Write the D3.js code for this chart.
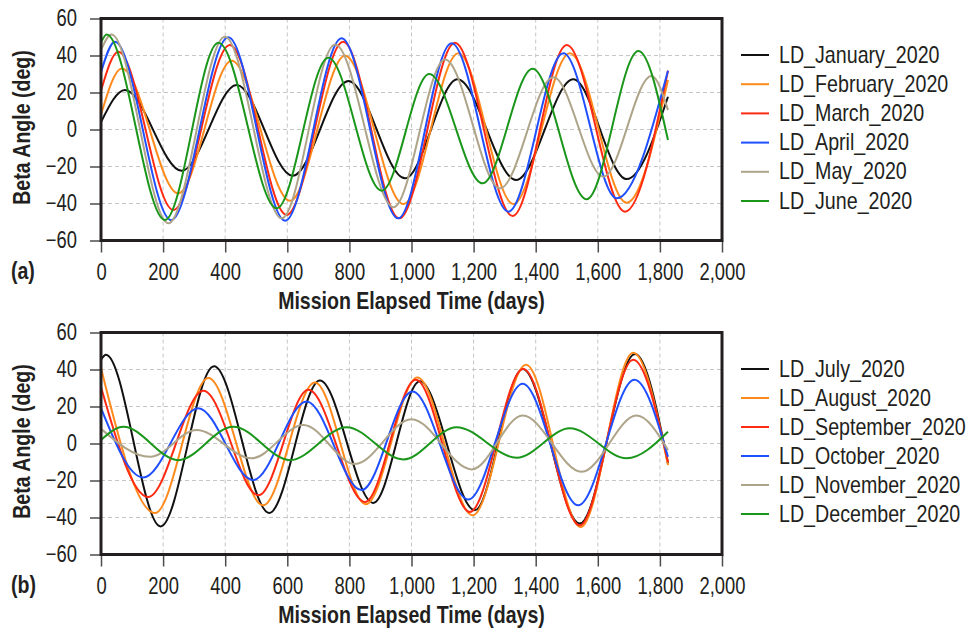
<!DOCTYPE html>
<html>
<head>
<meta charset="UTF-8">
<script src="https://cdn.jsdelivr.net/npm/d3@7"></script>
<style>
  body { margin: 0; background: #fff; }
  svg text { font-family: "Liberation Sans", Arial, sans-serif; fill: #231f20; }
  .grid line { stroke: #c6c6c6; stroke-width: 1; stroke-dasharray: 4,3; }
  .axis path { display: none; }
  .axis line { stroke: #4d4d4d; stroke-width: 1.5; }
  .axis text { font-size: 23px; }
  .frame { fill: none; stroke: #231f20; stroke-width: 3; }
  .series { fill: none; stroke-width: 2; }
  .title { font-size: 23px; font-weight: bold; }
  .legend text { font-size: 23px; }
</style>
</head>
<body>
<script>
var svgWidth = 968, svgHeight = 632;

// tick values shared by both panels
var xTicks = [0, 200, 400, 600, 800, 1000, 1200, 1400, 1600, 1800, 2000];
var yTicks = [-60, -40, -20, 0, 20, 40, 60];

// panel (a): [day, beta angle] (extrema + ends)
var namesA = ["LD_January_2020", "LD_February_2020", "LD_March_2020", "LD_April_2020", "LD_May_2020", "LD_June_2020"];
var january = [[0,4],[77,21.4],[260,-22.3],[437,24],[617,-25],[797,26.2],[979,-26.4],[1148,27.1],[1337,-27.3],[1521,27.1],[1693,-26.8],[1826,17.7]];
var february = [[0,8],[67,33],[249,-34.5],[421,37.2],[609,-38.5],[786,39.9],[974,-40.3],[1151,41.2],[1328,-40.3],[1510,41.2],[1693,-39.6],[1826,26.8]];
var march = [[0,21],[56,42],[233,-43.5],[415,45.7],[598,-46.2],[780,47.5],[961,-48],[1140,46.9],[1326,-46.8],[1500,45.7],[1688,-44.4],[1826,31.8]];
var april = [[0,31],[45,47.5],[226,-49],[410,49.8],[593,-49.3],[775,49.3],[957,-48],[1129,46.6],[1312,-44.4],[1489,41.2],[1661,-37.2],[1826,31.8]];
var may = [[0,43],[34,51.4],[217,-50.7],[399,50.2],[582,-48],[754,46],[942,-42],[1108,37.9],[1285,-31.8],[1457,28.2],[1618,-25.5],[1773,28.9],[1826,10.5]];
var june = [[0,47],[18,51.4],[206,-48.9],[378,46.9],[566,-42.6],[732,38.8],[904,-33.1],[1057,30],[1229,-29.1],[1390,32.9],[1564,-37.7],[1731,42.4],[1826,-5.7]];

// panel (b)
var namesB = ["LD_July_2020", "LD_August_2020", "LD_September_2020", "LD_October_2020", "LD_November_2020", "LD_December_2020"];
var july = [[0,45.3],[16,48],[192,-44.8],[364,41.7],[542,-37.5],[705,34.1],[877,-32.1],[1027,33.6],[1204,-36.1],[1358,40.3],[1542,-43.3],[1720,48.4],[1826,-10.8]];
var august = [[0,40.8],[174,-37.6],[346,35.4],[522,-33.4],[689,33],[853,-32.8],[1019,35.7],[1197,-38.8],[1369,42.6],[1545,-45.2],[1714,49],[1826,-11.7]];
var september = [[0,30.5],[152,-28.9],[330,28.5],[507,-28],[668,29],[850,-31.6],[1014,34.5],[1188,-37],[1360,40.3],[1542,-44.2],[1714,45.3],[1826,-10]];
var october = [[0,19.1],[136,-18.4],[313,19.1],[490,-19.8],[662,22.7],[839,-25.2],[1003,28.1],[1183,-30.3],[1358,32.3],[1537,-33.4],[1718,34.5],[1826,-7.2]];
var november = [[0,7.9],[158,-7.2],[308,7.3],[485,-8],[652,10],[818,-11.1],[1000,13.1],[1194,-14],[1358,15.1],[1548,-15.3],[1725,15.1],[1826,-3.5]];
var december = [[0,1.9],[72,9.1],[249,-9],[426,9.1],[609,-9],[791,8.8],[974,-8.6],[1145,8.8],[1339,-7.7],[1510,8.2],[1693,-8],[1826,6.4]];

var colors = ["#111111", "#ff8a1c", "#ff2a12", "#1f4fff", "#aea489", "#1a961a"];

var svg = d3.select("body").append("svg")
  .attr("width", svgWidth)
  .attr("height", svgHeight);

// no narrow font installed, so squeeze the glyphs horizontally
function narrow(sel, k) {
  sel.each(function() {
    var t = d3.select(this);
    var x0 = +t.attr("x") || 0;
    t.attr("x", x0 / k)
     .attr("transform", (t.attr("transform") || "") + " scale(" + k + ",1)");
  });
}

function drawPanel(top, bottom, series, names, tag, legendTop, legendStep) {
  var x = d3.scaleLinear().domain([0, 2000]).range([101, 722]);
  var y = d3.scaleLinear().domain([-60, 60]).range([bottom, top]);

  var g = svg.append("g");

  // dashed grid
  var grid = g.append("g").attr("class", "grid");
  grid.selectAll(".gx").data(xTicks.slice(1, -1)).enter().append("line")
    .attr("x1", function(d) { return x(d); }).attr("x2", function(d) { return x(d); })
    .attr("y1", top).attr("y2", bottom);
  grid.selectAll(".gy").data(yTicks.slice(1, -1)).enter().append("line")
    .attr("x1", x(0)).attr("x2", x(2000))
    .attr("y1", function(d) { return y(d); }).attr("y2", function(d) { return y(d); });

  var line = d3.line()
    .x(function(d) { return x(d[0]); })
    .y(function(d) { return y(d[1]); })
    .curve(d3.curveMonotoneX);

  g.selectAll(".series").data(series).enter().append("path")
    .attr("class", "series")
    .attr("d", line)
    .style("stroke", function(d, i) { return colors[i]; });

  // axes
  var gx = g.append("g")
    .attr("class", "axis")
    .attr("transform", "translate(0," + bottom + ")")
    .call(d3.axisBottom(x).tickValues(xTicks).tickFormat(d3.format(",")).tickSize(12).tickPadding(11));

  var gy = g.append("g")
    .attr("class", "axis")
    .attr("transform", "translate(" + x(0) + ",0)")
    .call(d3.axisLeft(y).tickValues(yTicks).tickSize(11).tickPadding(13));

  narrow(gx.selectAll("text"), 0.8);
  narrow(gy.selectAll("text"), 0.8);

  g.append("rect")
    .attr("class", "frame")
    .attr("x", x(0)).attr("y", top)
    .attr("width", x(2000) - x(0)).attr("height", bottom - top);

  var titles = g.append("g");
  titles.append("text")
    .attr("class", "title")
    .attr("transform", "translate(30," + ((top + bottom) / 2 - 2) + ") rotate(-90)")
    .attr("text-anchor", "middle")
    .text("Beta Angle (deg)");

  titles.append("text")
    .attr("class", "title")
    .attr("x", (x(0) + x(2000)) / 2)
    .attr("y", bottom + 68.5)
    .attr("text-anchor", "middle")
    .text("Mission Elapsed Time (days)");

  titles.append("text")
    .attr("class", "title")
    .attr("x", 11)
    .attr("y", bottom + 39)
    .text(tag);

  narrow(titles.selectAll("text"), 0.85);

  // legend
  var leg = g.selectAll(".legend").data(names).enter().append("g")
    .attr("class", "legend")
    .attr("transform", function(d, i) { return "translate(0," + (legendTop + i * legendStep) + ")"; });
  leg.append("line")
    .attr("x1", 741).attr("x2", 769)
    .attr("stroke-width", 2)
    .attr("stroke", function(d, i) { return colors[i]; });
  leg.append("text")
    .attr("x", 779)
    .attr("dy", "0.33em")
    .text(function(d) { return d; });

  narrow(leg.selectAll("text"), 0.855);
}

drawPanel(18.5, 240.5, [january, february, march, april, may, june], namesA, "(a)", 55, 29.2);
drawPanel(332.5, 554.5, [july, august, september, october, november, december], namesB, "(b)", 369, 29);
</script>
</body>
</html>
